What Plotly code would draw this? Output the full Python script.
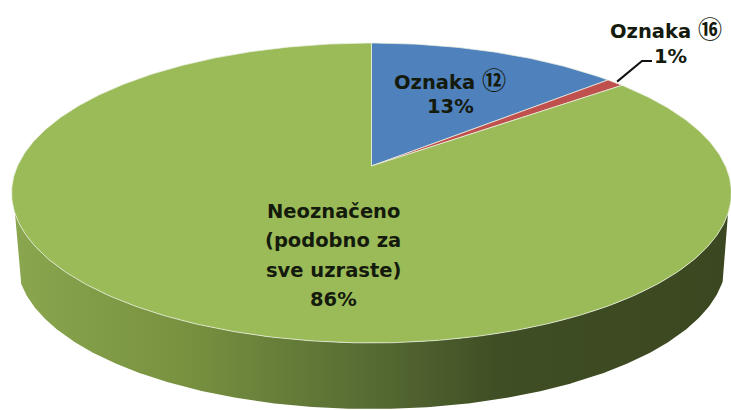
import numpy as np
import plotly.graph_objects as go

categories = ["Oznaka ⑫", "Oznaka ⑯", "Neoznačeno (podobno za sve uzraste)"]
values = [13.45, 0.95, 85.6]
slice_colors = ["#4f81bd", "#c0504d", "#9bbb59"]
label_lines = [["Oznaka ⑫", "13%"], ["Oznaka ⑯", "1%"],
               ["Neoznačeno", "(podobno za", "sve uzraste)", "86%"]]
label_pos = [[(450, 78), (450, 106)], [(666, 27), (670, 56)],
             [(333, 211), (333, 240), (333, 270), (333, 299)]]

CX, CY, A, B, K = 371.5, 166.0, 354.0, 145.1, 0.18
SHRINK, DEPTH = 0.985, 68.7
FONT = dict(family="DejaVu Sans, sans-serif", size=19.5, color="#141a0c")


def project(frac):
    t = np.asarray(frac) * 2 * np.pi
    X, Y = np.sin(t), np.cos(t)
    w = 1 + K * Y
    return CX + A * X / w, CY - B * Y / w


def markup(text):
    for ch in "⑫⑯":
        text = text.replace(ch, f"<span style=\"font-family:'Noto Sans CJK JP';font-size:24px\">{ch}</span>")
    return f"<b>{text}</b>"


fig = go.Figure()

# rim (lower part of the disc), light on the left and dark on the right
f = np.linspace(0.3, 0.7, 300)
xt, yt = project(f)
xb = CX + (xt - CX) * SHRINK
yb = CY + (yt - CY) * SHRINK + DEPTH
fig.add_trace(go.Scatter(
    x=np.r_[xt, xb[::-1]], y=np.r_[yt, yb[::-1]], mode="lines",
    fill="toself", line=dict(width=0), hoverinfo="skip",
    fillgradient=dict(type="horizontal", colorscale=[
        [0.0, "#8aa64e"], [0.25, "#77903f"], [0.5, "#566b33"],
        [0.68, "#3f4e24"], [1.0, "#3b4720"]])))

# top face, one wedge per value
shares = np.array(values) / sum(values)
edges = np.r_[0, np.cumsum(shares)]
for name, color, a, b in zip(categories, slice_colors, edges[:-1], edges[1:]):
    x, y = project(np.linspace(a, b, max(int((b - a) * 500), 8)))
    fig.add_trace(go.Scatter(
        x=np.r_[CX, x, CX], y=np.r_[CY, y, CY], mode="lines", fill="toself",
        fillcolor=color, line=dict(color="rgba(235,240,225,0.75)", width=1),
        name=name, hoverinfo="name"))

# leader line for the small slice
mx, my = project((edges[1] + edges[2]) / 2)
fig.add_trace(go.Scatter(x=[mx + 2, 642, 652], y=[my - 1, 61, 61], mode="lines",
                         line=dict(color="#111111", width=2), hoverinfo="skip"))

for lines, pos in zip(label_lines, label_pos):
    for text, (x, y) in zip(lines, pos):
        fig.add_annotation(x=x, y=y, text=markup(text), showarrow=False,
                           font=FONT, xanchor="center", yanchor="middle")

fig.update_xaxes(range=[0, 731], visible=False, fixedrange=True)
fig.update_yaxes(range=[410, 0], visible=False, fixedrange=True)
fig.update_layout(width=731, height=410, margin=dict(l=0, r=0, t=0, b=0),
                  showlegend=False, paper_bgcolor="white", plot_bgcolor="white")
fig.write_html("out.html", config=dict(displayModeBar=False),
               post_script="document.body.style.margin='0';document.documentElement.style.overflow='hidden';")
